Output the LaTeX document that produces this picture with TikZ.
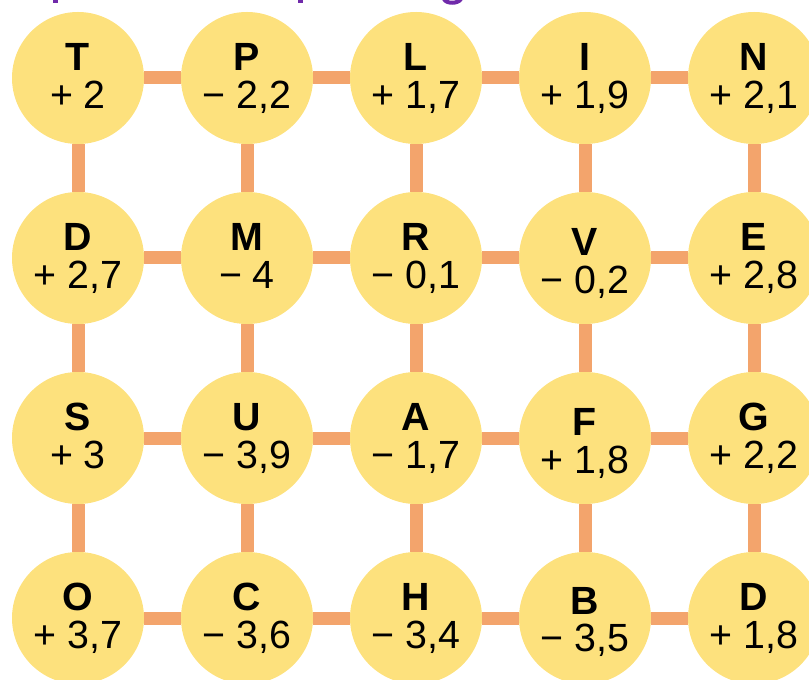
\documentclass[tikz,border=0pt]{standalone}
\usepackage{fontspec}
\setmainfont{Liberation Sans}
\usepackage{tikz}
\definecolor{cellyellow}{RGB}{253,225,125}
\definecolor{linkorange}{RGB}{243,164,108}
\definecolor{titlepurple}{RGB}{112,42,170}
\tikzstyle{cell} = [circle,fill=cellyellow,inner sep=0pt,minimum size=99pt,align=center,font=\fontsize{29.5pt}{28pt}\selectfont]
\tikzstyle{link} = [linkorange,line width=9.75pt]
\newcommand{\celltext}[3][22.5pt]{\rule{0pt}{#1}{\bfseries #2}\\#3\rule[-5.25pt]{0pt}{0pt}}

\begin{document}
\begin{tikzpicture}[x=0.75pt,y=0.75pt,yscale=-1,xscale=1]
\path [use as bounding box,clip] (0,0) rectangle (809,680);

%Shape: title remnants, cut at the top edge
\fill [titlepurple] (53,0) rectangle (58,3.5);
\fill [titlepurple] (298,0) rectangle (303,3.5);
\draw [titlepurple,line width=3pt] (444,-1) .. controls (446,4) and (458,4) .. (461,-1);

%Shape: Circle, first row
\node [cell] (t) at (78,78) {\celltext{T}{+ 2}};
\node [cell] (p) at (247,78) {\celltext{P}{− 2,2}};
\node [cell] (l) at (416,78) {\celltext{L}{+ 1,7}};
\node [cell] (i) at (585,78) {\celltext{I}{+ 1,9}};
\node [cell] (n) at (754,78) {\celltext{N}{+ 2,1}};
%Shape: Circle, second row
\node [cell] (d1) at (78,258) {\celltext{D}{+ 2,7}};
\node [cell] (m) at (247,258) {\celltext{M}{− 4}};
\node [cell] (r) at (416,258) {\celltext{R}{− 0,1}};
\node [cell] (v) at (585,258) {\celltext[30pt]{V}{− 0,2}};
\node [cell] (e) at (754,258) {\celltext{E}{+ 2,8}};
%Shape: Circle, third row
\node [cell] (s) at (78,438) {\celltext{S}{+ 3}};
\node [cell] (u) at (247,438) {\celltext{U}{− 3,9}};
\node [cell] (a) at (416,438) {\celltext{A}{− 1,7}};
\node [cell] (f) at (585,438) {\celltext[30pt]{F}{+ 1,8}};
\node [cell] (g) at (754,438) {\celltext{G}{+ 2,2}};
%Shape: Circle, fourth row
\node [cell] (o) at (78,618) {\celltext{O}{+ 3,7}};
\node [cell] (c) at (247,618) {\celltext{C}{− 3,6}};
\node [cell] (h) at (416,618) {\celltext{H}{− 3,4}};
\node [cell] (b) at (585,618) {\celltext[28pt]{B}{− 3,5}};
\node [cell] (d2) at (754,618) {\celltext{D}{+ 1,8}};

%Straight Lines, across
\draw [link] (t) -- (p) ; \draw [link] (p) -- (l) ; \draw [link] (l) -- (i) ; \draw [link] (i) -- (n) ;
\draw [link] (d1) -- (m) ; \draw [link] (m) -- (r) ; \draw [link] (r) -- (v) ; \draw [link] (v) -- (e) ;
\draw [link] (s) -- (u) ; \draw [link] (u) -- (a) ; \draw [link] (a) -- (f) ; \draw [link] (f) -- (g) ;
\draw [link] (o) -- (c) ; \draw [link] (c) -- (h) ; \draw [link] (h) -- (b) ; \draw [link] (b) -- (d2) ;
%Straight Lines, down
\draw [link] (t) -- (d1) ; \draw [link] (p) -- (m) ; \draw [link] (l) -- (r) ; \draw [link] (i) -- (v) ; \draw [link] (n) -- (e) ;
\draw [link] (d1) -- (s) ; \draw [link] (m) -- (u) ; \draw [link] (r) -- (a) ; \draw [link] (v) -- (f) ; \draw [link] (e) -- (g) ;
\draw [link] (s) -- (o) ; \draw [link] (u) -- (c) ; \draw [link] (a) -- (h) ; \draw [link] (f) -- (b) ; \draw [link] (g) -- (d2) ;

\end{tikzpicture}
\end{document}
